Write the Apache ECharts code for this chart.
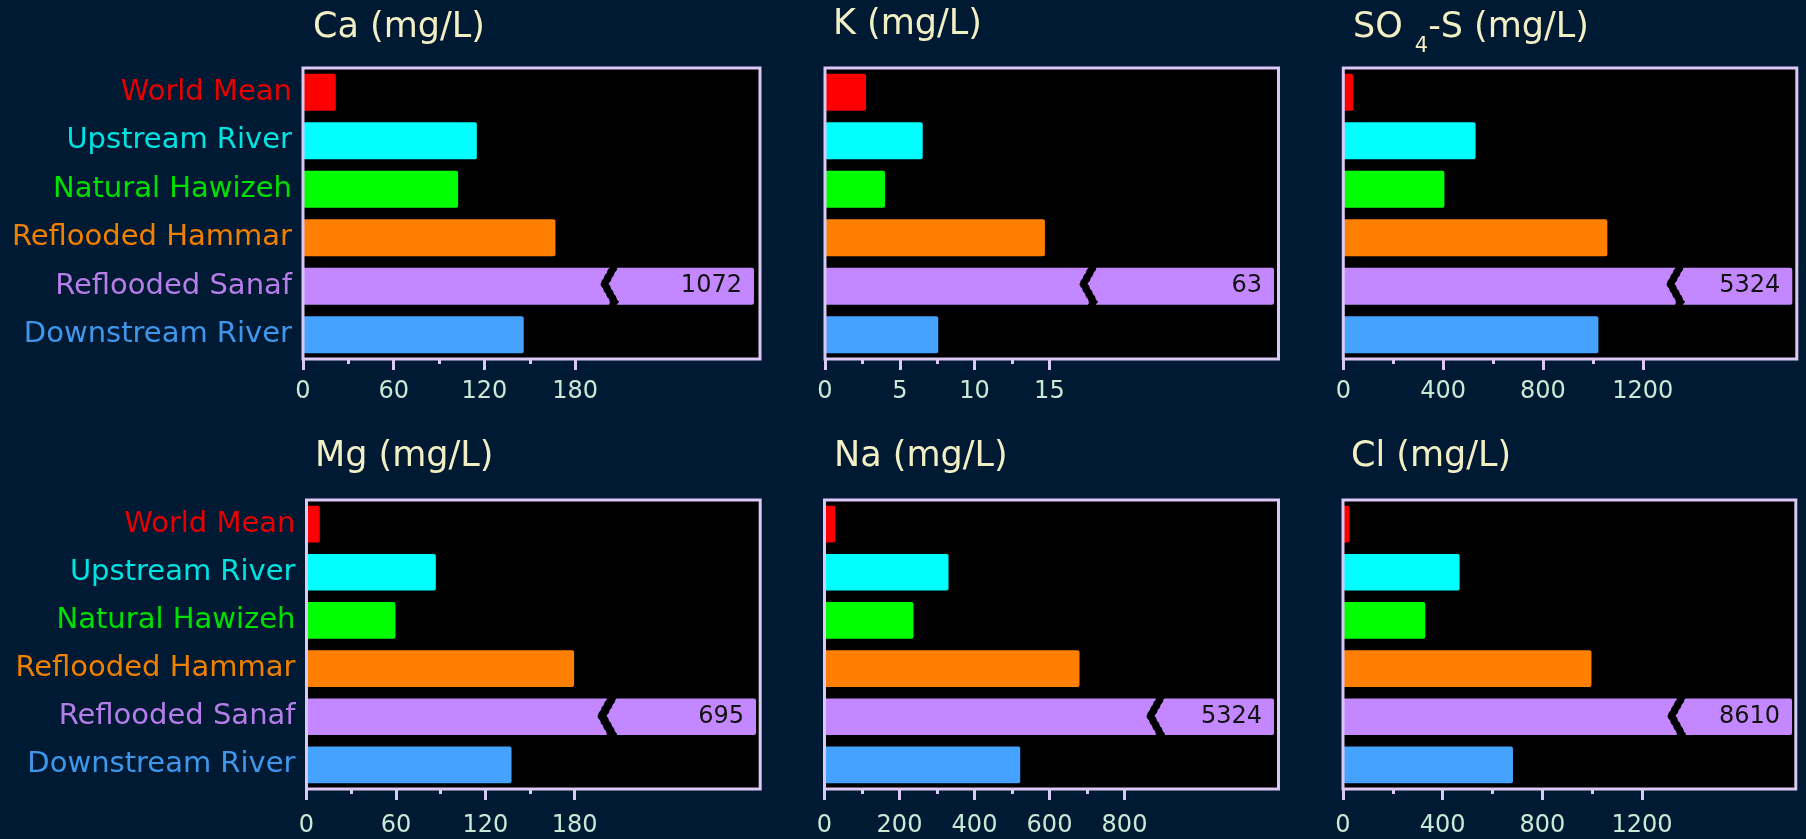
<!DOCTYPE html>
<html>
<head>
<meta charset="utf-8">
<title>Major ions (mg/L)</title>
<script src="https://cdn.jsdelivr.net/npm/echarts@6/dist/echarts.min.js"></script>
<style>
  html, body { margin: 0; padding: 0; background: #001a33; }
  #chart { width: 1806px; height: 839px; }
</style>
</head>
<body>
<div id="chart"></div>
<script>
// ---- data ----
const categories = ['World Mean', 'Upstream River', 'Natural Hawizeh', 'Reflooded Hammar', 'Reflooded Sanaf', 'Downstream River'];

const caValues  = [21.7, 115, 102.6, 167, 1072, 146];
const kValues   = [2.74, 6.53, 4.01, 14.7, 63, 7.57];
const so4Values = [40, 530, 405, 1058, 5324, 1022];
const mgValues  = [8.9, 86.8, 59.7, 179.6, 695, 137.6];
const naValues  = [28.5, 330.7, 237.3, 680, 5324, 521.9];
const clValues  = [26.5, 468, 330, 997, 8610, 682];

const caTicks  = [0, 60, 120, 180];      const caMinor  = [30, 90, 150];
const kTicks   = [0, 5, 10, 15];         const kMinor   = [2.5, 7.5, 12.5];
const so4Ticks = [0, 400, 800, 1200];    const so4Minor = [200, 600, 1000];
const mgTicks  = [0, 60, 120, 180];      const mgMinor  = [30, 90, 150];
const naTicks  = [0, 200, 400, 600, 800]; const naMinor = [100, 300, 500, 700];
const clTicks  = [0, 400, 800, 1200];    const clMinor  = [200, 600, 1000];

// broken value axes: [break start, break end, gap (data units), axis max]
const caScale  = [200, 979, 5.3, 1076];
const kScale   = [17.33, 50.85, 0.535, 63.3];
const so4Scale = [1313, 4870, 32, 5342];
const mgScale  = [198.8, 597.5, 5.4, 697.8];
const naScale  = [870.7, 5017.3, 21.3, 5336];
const clScale  = [1321, 8161, 32, 8625];

// ---- styling ----
const FONT = 'DejaVu Sans';
const frameColor = '#dcc8f4';
const titleColor = '#f3efc4';
const tickColor = '#c6ead6';
const barColors = ['#ff0000', '#00ffff', '#00ff00', '#ff8000', '#c388ff', '#45a3ff'];
const labelColors = ['#e60000', '#00e3e3', '#00e000', '#f08000', '#b57de8', '#3f97ec'];

const titleRich = {
  a: { fontSize: 35, color: titleColor, fontFamily: FONT },
  s: { fontSize: 21, color: titleColor, fontFamily: FONT, padding: [38, 0, 0, 12] }
};

const panels = [
  { title: 'Ca (mg/L)', values: caValues, ticks: caTicks, minor: caMinor, scale: caScale },
  { title: 'K (mg/L)', values: kValues, ticks: kTicks, minor: kMinor, scale: kScale },
  { title: '{a|SO}{s|4}{a|-S (mg/L)}', values: so4Values, ticks: so4Ticks, minor: so4Minor, scale: so4Scale },
  { title: 'Mg (mg/L)', values: mgValues, ticks: mgTicks, minor: mgMinor, scale: mgScale },
  { title: 'Na (mg/L)', values: naValues, ticks: naTicks, minor: naMinor, scale: naScale },
  { title: 'Cl (mg/L)', values: clValues, ticks: clTicks, minor: clMinor, scale: clScale }
];

// panel placement: grid [left, top, width, height], title [left, top], tick-label margin
const layout = [
  { grid: [303, 68, 457, 291], title: [313, 10], labels: true, tickMargin: 21 },
  { grid: [825, 68, 453.5, 291], title: [833, 7], labels: false, tickMargin: 21 },
  { grid: [1343.3, 68, 453.5, 291], title: [1353, -2], labels: false, tickMargin: 21 },
  { grid: [306.5, 500, 453.7, 289], title: [315, 439], labels: true, tickMargin: 25 },
  { grid: [824.5, 500, 454, 289], title: [834, 439], labels: false, tickMargin: 25 },
  { grid: [1343, 500, 452.8, 289], title: [1351, 439], labels: false, tickMargin: 25 }
];

const labelRich = {};
labelColors.forEach((c, i) => {
  labelRich['c' + i] = { color: c, fontSize: 29, fontFamily: FONT };
});

const option = {
  backgroundColor: '#001a33',
  animation: false,
  title: [],
  grid: [],
  xAxis: [],
  yAxis: [],
  series: []
};

panels.forEach((p, i) => {
  const L = layout[i];
  const [left, top, width, height] = L.grid;
  const [bStart, bEnd, bGap, axisMax] = p.scale;
  const breaks = [{ start: bStart, end: bEnd, gap: bGap }];

  option.title.push({
    text: p.title,
    left: L.title[0],
    top: L.title[1],
    padding: 0,
    textStyle: { fontSize: 35, color: titleColor, fontFamily: FONT, fontWeight: 'normal', rich: titleRich }
  });

  // plotting area (black) and its frame drawn on an upper layer
  option.grid.push({ left, top, width, height, show: true, backgroundColor: '#000', borderWidth: 0 });
  option.grid.push({ left, top, width, height, show: true, backgroundColor: 'transparent',
                     borderColor: frameColor, borderWidth: 3, zlevel: 1 });

  option.xAxis.push({
    type: 'value', gridIndex: 2 * i, min: 0, max: axisMax,
    breaks: breaks,
    breakArea: {
      show: true,
      itemStyle: { color: '#000', borderColor: '#000', borderWidth: 1, opacity: 1 },
      zigzagAmplitude: 5, zigzagMinSpan: 18, zigzagMaxSpan: 18, expandOnClick: false
    },
    axisLine: { show: false },
    splitLine: { show: false },
    axisTick: { show: true, customValues: p.ticks, length: 11, lineStyle: { color: frameColor, width: 3 } },
    axisLabel: {
      show: true, customValues: p.ticks, margin: L.tickMargin,
      formatter: v => String(v),
      color: tickColor, fontSize: 24, fontFamily: FONT
    }
  });
  // minor ticks
  option.xAxis.push({
    type: 'value', gridIndex: 2 * i + 1, zlevel: 1, min: 0, max: axisMax,
    breaks: breaks,
    breakArea: { show: false },
    axisLine: { show: false },
    splitLine: { show: false },
    axisTick: { show: true, customValues: p.minor, length: 5, lineStyle: { color: frameColor, width: 3 } },
    axisLabel: { show: false }
  });

  option.yAxis.push({
    type: 'category', gridIndex: 2 * i, data: categories, inverse: true,
    axisLine: { show: false }, axisTick: { show: false }, splitLine: { show: false },
    axisLabel: L.labels ? {
      show: true, margin: 11,
      formatter: (v, idx) => '{c' + idx + '|' + v + '}',
      rich: labelRich
    } : { show: false }
  });
  option.yAxis.push({ type: 'value', gridIndex: 2 * i + 1, show: false, min: 0, max: 1 });

  option.series.push({
    type: 'bar',
    xAxisIndex: 2 * i,
    yAxisIndex: 2 * i,
    barWidth: '76%',
    data: p.values.map((v, j) => ({
      value: v,
      itemStyle: { color: barColors[j], borderRadius: 2 },
      label: j === 4 ? {
        show: true, position: 'insideRight', distance: 12,
        color: '#111', fontSize: 24, fontFamily: FONT, formatter: '{c}'
      } : { show: false }
    }))
  });
});

const chart = echarts.init(document.getElementById('chart'), null, { renderer: 'canvas' });
chart.setOption(option);
</script>
</body>
</html>
